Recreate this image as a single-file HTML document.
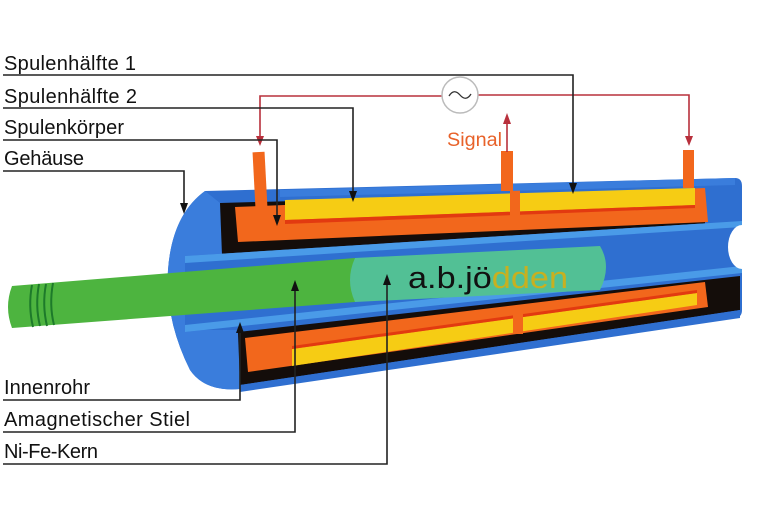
<!DOCTYPE html>
<html><head><meta charset="utf-8"><style>
html,body{margin:0;padding:0;background:#fff;}
svg{display:block;}
text{font-family:"Liberation Sans","DejaVu Sans",sans-serif;}
</style></head><body>
<svg width="760" height="506" viewBox="0 0 760 506" xmlns="http://www.w3.org/2000/svg">
<!-- housing outer -->
<path d="M205,191 L735,178 Q742,178 742,186 L742,310 Q742,318 734,318 L240,389 Q205,392 190,370 Q165,320 168,270 Q172,215 205,191 Z" fill="#2f6fd0"/>
<path d="M205,191 Q172,215 168,270 Q165,320 190,370 Q205,392 240,389 L238,330 L185,330 L185,258 L222,255 L220,203 Z" fill="#3a7ddc"/>
<!-- top interior black -->
<polygon points="220,203 705,190 705,225 222,255" fill="#140d0a"/>
<!-- top orange -->
<polygon points="235,207 705,188 708,222 238,242" fill="#f2671c"/>
<polygon points="285,200 695,188 695,205 285,220" fill="#f6cc14"/>
<polygon points="285,220 695,205 695,208 285,224" fill="#e23a10"/>
<rect x="510" y="186" width="10" height="35" fill="#f2671c"/>
<polygon points="280,190 735,178 735,185 280,197" fill="#3a7ddc"/>
<!-- inner tube -->
<polygon points="185,256 742,221 742,273 185,332" fill="#2f6fd0"/>
<polygon points="185,256 742,221 742,227 185,263" fill="#4a9be8"/>
<polygon points="185,325 742,266 742,273 185,332" fill="#4a9be8"/>
<ellipse cx="742" cy="247" rx="14" ry="22" fill="#fff"/>
<!-- lower -->
<polygon points="238,332 740,276 740,310 240,385" fill="#140d0a"/>
<polygon points="245,338 705,282 708,307 248,372" fill="#f2671c"/>
<polygon points="292,349 697,293 697,305 292,366" fill="#f6cc14"/>
<polygon points="292,346 697,290 697,293 292,349" fill="#e23a10"/>
<rect x="513" y="314" width="10" height="20" fill="#f2671c"/>
<polygon points="240,385 740,310 740,318 240,392" fill="#2f6fd0"/>
<!-- green rod -->
<path d="M12,286 L355,258 L355,302 L12,328 Q4,307 12,286 Z" fill="#4db43f"/>
<g stroke="#1d7a2a" stroke-width="2" fill="none">
<path d="M32,285 Q28,306 33,327"/><path d="M39,284 Q35,306 40,326"/><path d="M46,284 Q42,305 47,326"/><path d="M53,283 Q49,305 54,325"/>
</g>
<path d="M355,258 L600,246 Q612,266 600,290 L355,302 Q345,280 355,258 Z" fill="#52c095"/>
<text x="408" y="288" font-size="31" fill="#111" textLength="160" lengthAdjust="spacingAndGlyphs">a.b.jö<tspan fill="#c8b020">dden</tspan></text>
<!-- terminals -->
<rect x="254" y="152" width="12" height="55" fill="#f2671c" transform="rotate(-3 260 180)"/>
<rect x="501" y="151" width="12" height="40" fill="#f2671c"/>
<rect x="683" y="150" width="11" height="38" fill="#f2671c"/>
<!-- red wiring -->
<g stroke="#b8303c" stroke-width="1.6" fill="none">
<polyline points="260,138 260,96 442,96"/>
<polyline points="478,95 689,95 689,138"/>
<line x1="507" y1="152" x2="507" y2="122"/>
</g>
<path d="M256,136 L264,136 L260,146 Z" fill="#b8303c"/>
<path d="M685,136 L693,136 L689,146 Z" fill="#b8303c"/>
<path d="M503,124 L511,124 L507,113 Z" fill="#b8303c"/>
<circle cx="460" cy="95" r="18" fill="#fff" stroke="#bbb" stroke-width="1.5"/>
<path d="M449,96 Q454,88 460,95 Q466,102 471,94" stroke="#333" stroke-width="1.3" fill="none"/>
<text x="447" y="146" font-size="19" fill="#e8622a" textLength="55" lengthAdjust="spacingAndGlyphs">Signal</text>
<!-- black leaders -->
<g stroke="#222" stroke-width="1.6" fill="none">
<polyline points="3,75 573,75 573,184"/>
<polyline points="3,108 353,108 353,192"/>
<polyline points="3,140 277,140 277,216"/>
<polyline points="3,171 184,171 184,204"/>
<polyline points="3,400 240,400 240,332"/>
<polyline points="3,432 295,432 295,290"/>
<polyline points="3,464 387,464 387,284"/>
</g>
<g fill="#111">
<path d="M569,183 L577,183 L573,194 Z"/>
<path d="M349,191 L357,191 L353,202 Z"/>
<path d="M273,215 L281,215 L277,226 Z"/>
<path d="M180,203 L188,203 L184,214 Z"/>
<path d="M236,333 L244,333 L240,322 Z"/>
<path d="M291,291 L299,291 L295,280 Z"/>
<path d="M383,285 L391,285 L387,274 Z"/>
</g>
<g font-size="20" fill="#111" lengthAdjust="spacingAndGlyphs">
<text x="4" y="70" textLength="132">Spulenhälfte 1</text>
<text x="4" y="103" textLength="133">Spulenhälfte 2</text>
<text x="4" y="134" textLength="120">Spulenkörper</text>
<text x="4" y="165" textLength="80">Gehäuse</text>
<text x="4" y="394" textLength="86">Innenrohr</text>
<text x="4" y="426" textLength="186">Amagnetischer Stiel</text>
<text x="4" y="458" textLength="94">Ni-Fe-Kern</text>
</g>
</svg>
</body></html>
